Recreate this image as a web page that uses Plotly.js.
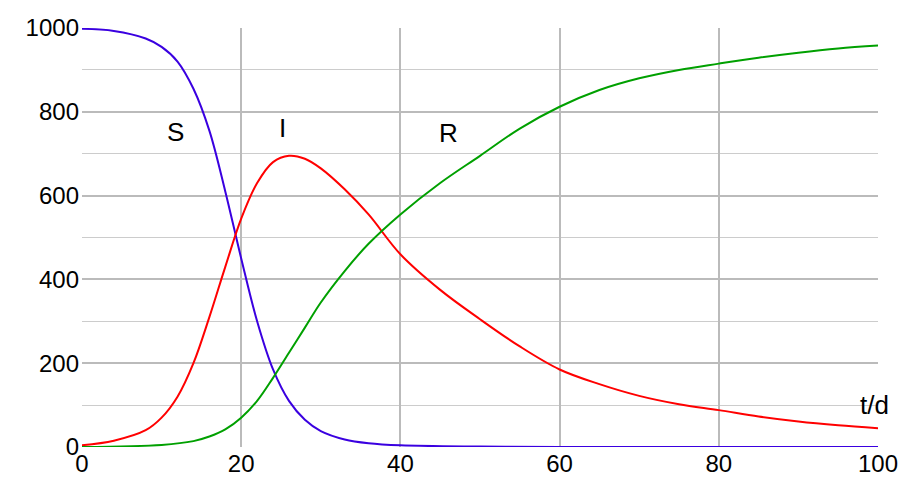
<!DOCTYPE html>
<html><head><meta charset="utf-8">
<script src="https://cdn.plot.ly/plotly-3.0.1.min.js"></script>
<style>body{margin:0}</style></head>
<body><div id="plot" style="width:903px;height:486px"></div>
<script>
const tS = [0,4,8,10,12,14,16,18,20,22,24,26,28,30,33,36,40,50,60,80,100];
const sVals = [998,993,975,955,920,855,755,610,450,300,185,110,65,38,18,9,4,1,0,0,0];
const tI = [0,4,8,10,12,14,16,18,20,22,24,26,28,30,33,36,40,45,50,55,60,65,70,75,80,85,90,95,100];
const iVals = [4,15,40,70,120,200,310,430,545,630,680,695,688,665,615,555,460,375,305,240,185,150,122,102,88,73,61,52,45];
const tR = [0,10,14,16,18,20,22,24,26,28,30,33,36,40,45,50,55,60,65,70,75,80,85,90,95,100];
const rVals = [0,5,14,25,42,70,110,165,225,285,345,420,485,555,630,695,760,812,852,880,900,915,929,941,951,958];
const labels = [{t:'S',x:11.7,y:752},{t:'I',x:25.2,y:761},{t:'R',x:46,y:749},{t:'t/d',x:99.6,y:100}];

const line = (x, y, c) => ({x, y, type:'scatter', mode:'lines', line:{color:c, width:2, shape:'spline', smoothing:1}});
const traces = [line(tS,sVals,'#3a00e0'), line(tI,iVals,'#ff0000'), line(tR,rVals,'#00a000')];

const layout = {
  width:903, height:486, showlegend:false,
  margin:{l:82, r:25, t:28, b:39},
  paper_bgcolor:'white', plot_bgcolor:'white',
  font:{family:'Liberation Sans, Arial, sans-serif', size:24, color:'black'},
  xaxis:{range:[0,100], dtick:20, gridcolor:'#bbbbbb', gridwidth:1.5, zeroline:false, ticks:'', showline:false},
  yaxis:{range:[0,1000], dtick:200, gridcolor:'#bbbbbb', gridwidth:1.5, zeroline:false, ticks:'', ticklabelstandoff:2,
    minor:{dtick:100, showgrid:true, gridcolor:'#cccccc', gridwidth:1}, showline:false},
  annotations: labels.map(a => ({text:a.t, x:a.x, y:a.y, showarrow:false, font:{size:26}}))
};
Plotly.newPlot('plot', traces, layout, {displayModeBar:false});
</script></body></html>
